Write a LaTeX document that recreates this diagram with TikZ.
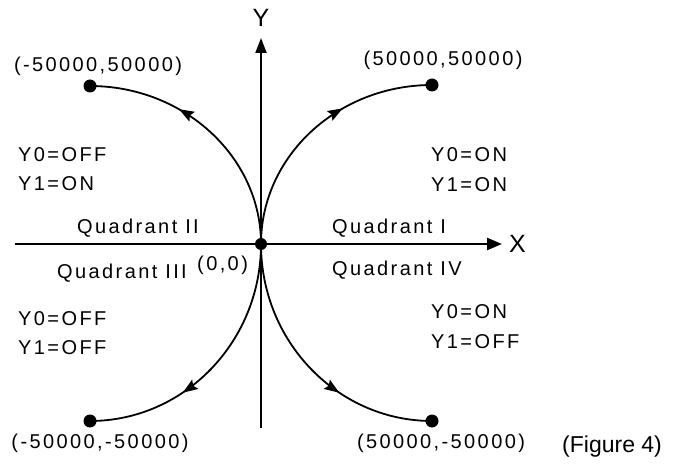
\documentclass[tikz,border=0pt]{standalone}
\usepackage{fontspec}
\setmainfont{Liberation Sans}
\newfontfamily\spacedfont[LetterSpace=12]{Liberation Sans}
\usetikzlibrary{calc,decorations.markings,arrows.meta}
\tikzset{
  lbl/.style={font=\spacedfont\fontsize{20bp}{24bp}\selectfont, inner sep=0pt},
  big/.style={font=\fontsize{25bp}{29bp}\selectfont, inner sep=0pt},
  dotnode/.style={circle, fill=black, inner sep=0pt, minimum size=13bp},
  xaxis/.style={line width=2.6bp, -{Triangle[length=15bp,width=12bp]}},
  yaxis/.style={line width=2bp, -{Triangle[length=15bp,width=11bp]}},
  curve/.style={line width=1.8bp, postaction=decorate,
    decoration={markings, mark=at position 0.64 with {\arrow{Stealth[length=15bp,width=11bp,inset=2.5bp]}}}}
}
\begin{document}
\begin{tikzpicture}[x=1bp,y=-1bp]
\useasboundingbox (0,0) rectangle (678,468);
% axes
\coordinate (O) at (261,244);
\coordinate (xs) at (15,244);
\coordinate (xe) at (502,244);
\coordinate (ys) at (261,428);
\coordinate (ye) at (261,38);
\draw[xaxis] (xs) -- (xe);
\draw[yaxis] (ys) -- (ye);
% end points
\node[dotnode] (ul) at (90,86) {};
\node[dotnode] (ur) at (432,85) {};
\node[dotnode] (ll) at (90,421) {};
\node[dotnode] (lr) at (432,421) {};
% curves
\draw[curve] (O) .. controls ($(O)+(0,-87)$) and ($(ul.center)+(94,0)$) .. (ul.center);
\draw[curve] (O) .. controls ($(O)+(0,-88)$) and ($(ur.center)+(-94,0)$) .. (ur.center);
\draw[curve] (O) .. controls ($(O)+(0,98)$) and ($(ll.center)+(94,0)$) .. (ll.center);
\draw[curve] (O) .. controls ($(O)+(0,98)$) and ($(lr.center)+(-94,0)$) .. (lr.center);
\node[dotnode, minimum size=12bp] (od) at (O) {};
% axis labels
\node[big] (ylab) at (261,18) {Y};
\node[big, anchor=west] (xlab) at (509,244) {X};
% coordinates
\node[lbl] (t1) at (98,66) {(-50000,50000)};
\node[lbl] (t2) at (443,60) {(50000,50000)};
\node[lbl] (t3) at (100,443) {(-50000,-50000)};
\node[lbl] (t4) at (441,443) {(50000,-50000)};
\node[lbl, anchor=west] (oo) at (197,265) {(0,0)};
% quadrant II
\node[lbl, anchor=west] (a1) at (18,155) {Y0=OFF};
\node[lbl, anchor=west] (a2) at (18,184) {Y1=ON};
% quadrant I
\node[lbl, anchor=west] (b1) at (431,155) {Y0=ON};
\node[lbl, anchor=west] (b2) at (431,185) {Y1=ON};
% quadrant III
\node[lbl, anchor=west] (c1) at (18,319) {Y0=OFF};
\node[lbl, anchor=west] (c2) at (18,348) {Y1=OFF};
% quadrant IV
\node[lbl, anchor=west] (d1) at (431,312) {Y0=ON};
\node[lbl, anchor=west] (d2) at (431,342) {Y1=OFF};
% quadrant names
\node[lbl, anchor=east] (q2) at (199,228) {Quadrant II};
\node[lbl, anchor=east] (q3) at (187,273) {Quadrant III};
\node[lbl, anchor=west] (q1) at (332,228) {Quadrant I};
\node[lbl, anchor=west] (q4) at (332,270) {Quadrant IV};
% caption
\node[font=\fontsize{23bp}{27bp}\selectfont, inner sep=0pt, anchor=west] (fig) at (562,447) {(Figure 4)};
\end{tikzpicture}
\end{document}
